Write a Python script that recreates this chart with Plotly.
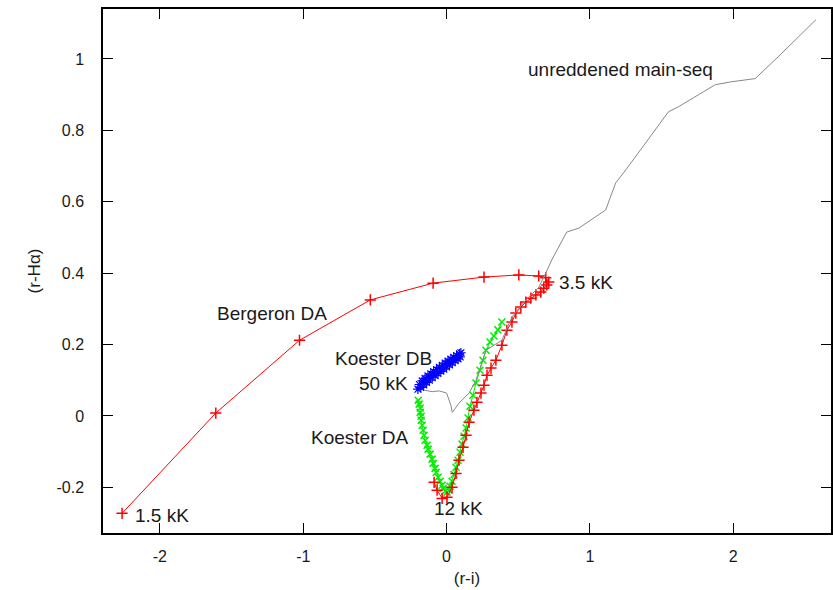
import plotly.graph_objects as go

# Unreddened main sequence (grey line)
ms_x = [-0.157, -0.10, -0.05, 0.0, 0.03, 0.04, 0.087, 0.157, 0.205, 0.275, 0.386, 0.456, 0.553, 0.643,
        0.692, 0.734, 0.838, 0.922, 1.11, 1.18, 1.25, 1.548, 1.617, 1.875, 1.986, 2.153, 2.313, 2.577]
ms_y = [0.072, 0.068, 0.070, 0.064, 0.030, 0.010, 0.036, 0.064, 0.100, 0.184, 0.212, 0.277, 0.325, 0.360,
        0.400, 0.437, 0.515, 0.526, 0.577, 0.653, 0.689, 0.852, 0.866, 0.928, 0.936, 0.945, 1.006, 1.110]

# Bergeron DA (red, 1.5 kK -> 3.5 kK -> 12 kK)
berg_x = [-2.264, -1.610, -1.026, -0.532, -0.094, 0.261, 0.504, 0.643, 0.692, 0.713, 0.699, 0.678, 0.657,
          0.623, 0.588, 0.553, 0.518, 0.483, 0.456, 0.421, 0.386, 0.344, 0.310, 0.282, 0.261, 0.240,
          0.212, 0.191, 0.157, 0.136, 0.115, 0.087, 0.066, 0.038, 0.003, -0.031, -0.066, -0.087]
berg_y = [-0.273, 0.008, 0.212, 0.325, 0.372, 0.389, 0.395, 0.392, 0.387, 0.375, 0.367, 0.358, 0.347,
          0.339, 0.330, 0.319, 0.305, 0.288, 0.263, 0.240, 0.198, 0.156, 0.134, 0.114, 0.086, 0.064,
          0.038, 0.016, -0.018, -0.054, -0.088, -0.124, -0.161, -0.200, -0.228, -0.231, -0.208, -0.186]

# Koester DA (green)
kda_x = [-0.198, -0.191, -0.184, -0.184, -0.177, -0.177, -0.170, -0.163, -0.157, -0.150, -0.136, -0.129,
         -0.115, -0.101, -0.094, -0.080, -0.073, -0.059, -0.045, -0.031, -0.024, -0.010, 0.003, 0.017,
         0.024, 0.038, 0.052, 0.066, 0.080, 0.094, 0.108, 0.122, 0.136, 0.150, 0.163, 0.184, 0.205,
         0.233, 0.254, 0.275, 0.303, 0.330, 0.358, 0.386]
kda_y = [0.044, 0.033, 0.022, 0.010, -0.001, -0.012, -0.026, -0.040, -0.054, -0.068, -0.082, -0.093,
         -0.107, -0.121, -0.133, -0.147, -0.158, -0.172, -0.183, -0.194, -0.203, -0.211, -0.214, -0.208,
         -0.197, -0.183, -0.164, -0.144, -0.124, -0.102, -0.079, -0.057, -0.034, -0.006, 0.027, 0.058,
         0.092, 0.128, 0.156, 0.184, 0.207, 0.224, 0.241, 0.263]

# Koester DB (blue)
kdb_x = [-0.19, -0.17, -0.15, -0.13, -0.11, -0.09, -0.07, -0.05, -0.03, -0.01, 0.01, 0.03, 0.05, 0.07, 0.09, 0.10,
         -0.20, -0.18, -0.16, -0.14, -0.12, -0.10, -0.08, -0.06, -0.04, -0.02, 0.00, 0.02, 0.04, 0.06, 0.08, 0.095]
kdb_y = [0.088, 0.098, 0.105, 0.112, 0.118, 0.124, 0.130, 0.136, 0.142, 0.148, 0.154, 0.159, 0.164, 0.169, 0.174, 0.177,
         0.075, 0.080, 0.087, 0.094, 0.100, 0.107, 0.113, 0.119, 0.125, 0.131, 0.137, 0.143, 0.149, 0.155, 0.160, 0.165]

x_ticks = [-2, -1, 0, 1, 2]
x_tick_text = ["-2", "-1", "0", "1", "2"]
y_ticks = [-0.2, 0, 0.2, 0.4, 0.6, 0.8, 1.0]
y_tick_text = ["-0.2", "0", "0.2", "0.4", "0.6", "0.8", "1"]

labels = [
    ("unreddened main-seq", 1.214, 0.970, "center"),
    ("3.5 kK", 0.769, 0.375, "left"),
    ("Bergeron DA", -1.221, 0.288, "center"),
    ("Koester DB", -0.438, 0.162, "center"),
    ("50 kK", -0.438, 0.092, "center"),
    ("Koester DA", -0.605, -0.060, "center"),
    ("12 kK", 0.080, -0.259, "center"),
    ("1.5 kK", -1.983, -0.279, "center"),
]

FONT = "Liberation Sans, Arial, sans-serif"

fig = go.Figure()
fig.add_trace(go.Scatter(x=kda_x, y=kda_y, mode="lines+markers",
                         line=dict(color="#00ee00", width=1),
                         marker=dict(symbol="x-thin-open", size=7, color="#00ee00",
                                     line=dict(color="#00ee00", width=1.5))))
fig.add_trace(go.Scatter(x=kdb_x, y=kdb_y, mode="markers",
                         marker=dict(symbol="asterisk-open", size=8, color="#0000ff",
                                     line=dict(color="#0000ff", width=1.2))))
fig.add_trace(go.Scatter(x=berg_x, y=berg_y, mode="lines+markers",
                         line=dict(color="#ff0000", width=1),
                         marker=dict(symbol="cross-thin-open", size=8, color="#ff0000",
                                     line=dict(color="#ff0000", width=1.5))))
fig.add_trace(go.Scatter(x=ms_x, y=ms_y, mode="lines",
                         line=dict(color="#888888", width=1)))

for text, x, y, anchor in labels:
    fig.add_annotation(x=x, y=y, xref="x", yref="y", text=text, showarrow=False,
                       xanchor=anchor, yanchor="middle",
                       font=dict(family=FONT, size=19, color="#1a1a1a"))

axis_common = dict(showline=True, linecolor="black", linewidth=1.5, mirror="ticks",
                   ticks="inside", ticklen=10, tickwidth=1.2, tickcolor="black",
                   showgrid=False, zeroline=False,
                   tickfont=dict(family=FONT, size=16, color="#1a1a1a"))

fig.update_layout(
    width=833, height=590, autosize=False,
    margin=dict(l=103, r=0, t=9, b=57),
    plot_bgcolor="white", paper_bgcolor="white",
    showlegend=False,
    xaxis=dict(range=[-2.397, 2.682], tickvals=x_ticks, ticktext=x_tick_text,
               title=dict(text="(r-i)", standoff=8, font=dict(family=FONT, size=17, color="#1a1a1a")),
               ticklabelstandoff=8, **axis_common),
    yaxis=dict(range=[-0.328, 1.14], tickvals=y_ticks, ticktext=y_tick_text,
               title=dict(text="(r-Hα)", standoff=12, font=dict(family=FONT, size=17, color="#1a1a1a")),
               ticklabelstandoff=14, **axis_common),
)

fig.write_html("out.html")
